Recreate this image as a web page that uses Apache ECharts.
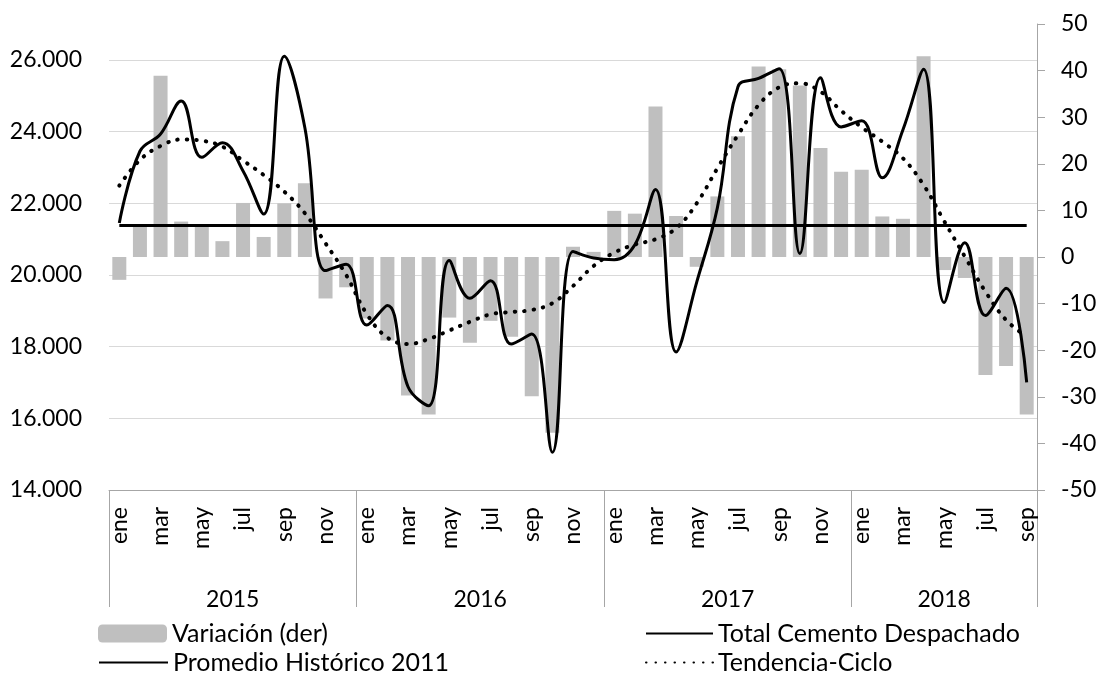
<!DOCTYPE html>
<html><head><meta charset="utf-8">
<script src="https://cdn.jsdelivr.net/npm/echarts@6/dist/echarts.min.js"></script>
<style>html,body{margin:0;padding:0;background:#fff}#c{width:1101px;height:680px}</style>
</head><body><div id="c"></div>
<script>
const monthNames = ['ene','feb','mar','abr','may','jun','jul','ago','sep','oct','nov','dic'];
const years = ['2015','2016','2017','2018'];
const monthsPerYear = [12, 12, 12, 9];
const months = [];
monthsPerYear.forEach(n => { for (let i = 0; i < n; i++) months.push(monthNames[i]); });

const variacion = [-4.9, 6.5, 38.9, 7.6, 6.8, 3.4, 11.6, 4.3, 11.5, 15.8, -8.9, -6.5,
  -13.2, -17.9, -29.7, -33.8, -13.0, -18.4, -13.7, -17.1, -29.9, -37.7, 2.2, 1.1,
  9.9, 9.3, 32.3, 8.8, -2.1, 13.0, 25.9, 40.9, 40.3, 36.8, 23.4, 18.3,
  18.7, 8.7, 8.2, 43.1, -2.8, -4.5, -25.3, -23.4, -33.8];
const totalCemento = [21450, 23450, 23930, 24850, 23280, 23690, 22900, 21700, 26100, 24100, 20120, 20300,
  18600, 19150, 16880, 16350, 20400, 19350, 19840, 18070, 18350, 15050, 20650, 20470,
  20420, 20840, 22380, 17850, 19800, 21870, 25250, 25480, 25750, 20600, 25500, 24130,
  24300, 22710, 24050, 25740, 19230, 20900, 18870, 19630, 17000];
const tendencia = [22490, 23207, 23597, 23780, 23746, 23579, 23188, 22788, 22323, 21720, 20883, 20000,
  18910, 18250, 18073, 18210, 18450, 18690, 18900, 18965, 19022, 19210, 19690, 20250,
  20622, 20846, 20994, 21300, 21997, 22974, 23904, 24741, 25234, 25346, 25113, 24583,
  24119, 23718, 23255, 22510, 21500, 20510, 19533, 18743, 18278];
const promedio2011Value = 21380;
const promedio2011 = months.map(() => promedio2011Value);

const leftMin = 14000, leftMax = 27000, leftStep = 2000;
const rightMin = -50, rightMax = 50, rightStep = 10;

// year boundaries and label centres on the year axis
const yearBounds = [0];
monthsPerYear.forEach(n => yearBounds.push(yearBounds[yearBounds.length - 1] + n));
const yearCenters = years.map((y, i) => (yearBounds[i] + yearBounds[i + 1]) / 2);

const FONT = 'Lato';
const TXT = '#000';
const AXIS_GRAY = '#a6a6a6';

function thousands(v) { return String(v).replace(/\B(?=(\d{3})+(?!\d))/g, '.'); }

const chart = echarts.init(document.getElementById('c'), null, { renderer: 'canvas' });
const legendText = { fontFamily: FONT, fontSize: 25, color: TXT };
function mkLegend(name, left, top, w, h, isLine) {
  const l = { data: [name], left: left, top: top, padding: 0, itemWidth: w, itemHeight: h,
    itemGap: 0, textStyle: legendText, selectedMode: false };
  if (isLine) l.itemStyle = { opacity: 0 };
  return l;
}
chart.setOption({
  animation: false,
  backgroundColor: '#fff',
  textStyle: { fontFamily: FONT },
  grid: { left: 109, right: 64, top: 24, bottom: 190, containLabel: false },
  legend: [
    mkLegend('Variación (der)', 98, 621, 69, 18, false),
    mkLegend('Promedio Histórico 2011', 98, 650, 69, 14, true),
    mkLegend('Total Cemento Despachado', 645, 621, 67, 14, true),
    mkLegend('Tendencia-Ciclo', 645, 650, 67, 14, true)
  ],
  xAxis: [
    {
      type: 'category', data: months, boundaryGap: true, position: 'bottom',
      axisLine: { show: true, onZero: false, lineStyle: { color: AXIS_GRAY, width: 1 } },
      axisTick: { show: false },
      axisLabel: { interval: 1, rotate: 90, margin: 17, fontFamily: FONT, fontSize: 23, color: TXT },
      splitLine: { show: false }
    },
    {
      type: 'value', min: 0, max: yearBounds[yearBounds.length - 1], position: 'bottom',
      axisLine: { show: false, onZero: false },
      axisTick: { show: true, customValues: yearBounds, length: 117, lineStyle: { color: AXIS_GRAY, width: 1 } },
      axisLabel: { customValues: yearCenters, margin: 98, fontFamily: FONT, fontSize: 23, color: TXT,
        formatter: v => { const i = yearCenters.indexOf(v); return i >= 0 ? years[i] : ''; } },
      splitLine: { show: false }
    }
  ],
  yAxis: [
    {
      type: 'value', min: leftMin, max: leftMax, interval: leftStep, position: 'left',
      axisLine: { show: false }, axisTick: { show: false },
      axisLabel: { margin: 27, fontFamily: FONT, fontSize: 23, color: TXT, formatter: v => thousands(v), showMaxLabel: false },
      splitLine: { show: true, showMaxLine: false, lineStyle: { color: '#d9d9d9', width: 1 } }
    },
    {
      type: 'value', min: rightMin, max: rightMax, interval: rightStep, position: 'right',
      axisLine: { show: true, onZero: false, lineStyle: { color: AXIS_GRAY, width: 1 } },
      axisTick: { show: true, length: 8, inside: false, lineStyle: { color: AXIS_GRAY } },
      axisLabel: { margin: 24, fontFamily: FONT, fontSize: 23, color: TXT },
      splitLine: { show: false }
    }
  ],
  series: [
    { name: 'Variación (der)', type: 'bar', xAxisIndex: 0, yAxisIndex: 1, data: variacion,
      barWidth: 14, itemStyle: { color: '#bfbfbf' } },
    { name: 'Promedio Histórico 2011', type: 'line', xAxisIndex: 0, yAxisIndex: 0, data: promedio2011,
      symbol: 'none', lineStyle: { color: '#000', width: 3 }, itemStyle: { color: '#000' } },
    { name: 'Tendencia-Ciclo', type: 'line', xAxisIndex: 0, yAxisIndex: 0, data: tendencia,
      symbol: 'none', smooth: 0.4,
      lineStyle: { color: '#000', width: 4, type: [0.5, 9], cap: 'round' }, itemStyle: { color: '#000' } },
    { name: 'Total Cemento Despachado', type: 'line', xAxisIndex: 0, yAxisIndex: 0, data: totalCemento,
      symbol: 'none', smooth: 0.4, lineStyle: { color: '#000', width: 3 }, itemStyle: { color: '#000' } }
  ]
});
</script>
</body></html>
